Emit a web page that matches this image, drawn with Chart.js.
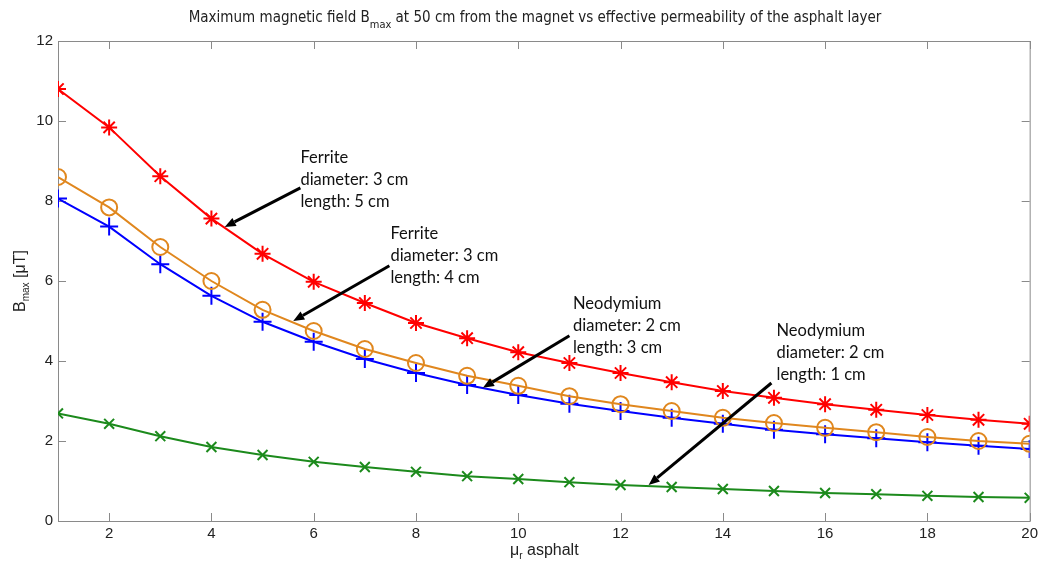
<!DOCTYPE html>
<html>
<head>
<meta charset="utf-8">
<script src="https://cdn.jsdelivr.net/npm/chart.js@4"></script>
<style>
  html, body { margin: 0; padding: 0; background: #fff; }
  #wrap { width: 1042px; height: 565px; }
</style>
</head>
<body>
<div id="wrap"><canvas id="bmaxChart"></canvas></div>
<script>
// mu_r of the asphalt layer
const muR = [1, 2, 3, 4, 5, 6, 7, 8, 9, 10, 11, 12, 13, 14, 15, 16, 17, 18, 19, 20];

// Bmax [uT] per magnet
const ferrite3x5 = [10.8, 9.84, 8.62, 7.56, 6.68, 5.98, 5.45, 4.95, 4.57, 4.22, 3.95, 3.7, 3.47, 3.25, 3.08, 2.92, 2.78, 2.65, 2.53, 2.43];
const ferrite3x4 = [8.6, 7.84, 6.85, 6.0, 5.28, 4.75, 4.3, 3.95, 3.63, 3.38, 3.12, 2.92, 2.75, 2.58, 2.45, 2.33, 2.22, 2.1, 2.0, 1.93];
const neodym2x3 = [8.06, 7.36, 6.42, 5.63, 4.98, 4.48, 4.05, 3.7, 3.4, 3.15, 2.93, 2.75, 2.58, 2.43, 2.28, 2.17, 2.07, 1.97, 1.88, 1.8];
const neodym2x1 = [2.69, 2.43, 2.12, 1.85, 1.65, 1.48, 1.35, 1.23, 1.12, 1.05, 0.97, 0.9, 0.85, 0.8, 0.75, 0.7, 0.67, 0.63, 0.6, 0.58];

// tick labels
const xTicks = [2, 4, 6, 8, 10, 12, 14, 16, 18, 20];
const yTicks = [0, 2, 4, 6, 8, 10, 12];

// callouts: text lines, text anchor, arrow tail -> tip (data units)
const callouts = [
    { lines: ['Ferrite', 'diameter: 3 cm', 'length: 5 cm'], at: [5.74, 8.95], from: [5.74, 8.33], to: [4.26, 7.35] },
    { lines: ['Ferrite', 'diameter: 3 cm', 'length: 4 cm'], at: [7.5, 7.05], from: [7.48, 6.38], to: [5.6, 5.0] },
    { lines: ['Neodymium', 'diameter: 2 cm', 'length: 3 cm'], at: [11.07, 5.3], from: [11.0, 4.63], to: [9.31, 3.33] },
    { lines: ['Neodymium', 'diameter: 2 cm', 'length: 1 cm'], at: [15.05, 4.62], from: [14.95, 3.45], to: [12.55, 0.9] }
];

const sansFam = '"Liberation Sans", Arial, sans-serif';
const narrowFont = '"Liberation Sans Narrow", "DejaVu Sans Condensed", Arial, sans-serif';

function toPoints(values) {
    return values.map((v, i) => ({ x: muR[i], y: v }));
}

// box + inward tick marks, matlab style
const framePlugin = {
    id: 'frame',
    beforeDatasetsDraw(chart) {
        const ctx = chart.ctx;
        const a = chart.chartArea;
        const sx = chart.scales.x, sy = chart.scales.y;
        ctx.save();
        ctx.strokeStyle = '#8a8a8a';
        ctx.lineWidth = 1;
        ctx.strokeRect(a.left + 0.5, a.top + 0.5, a.right - a.left, a.bottom - a.top);
        ctx.beginPath();
        xTicks.forEach(t => {
            const px = Math.round(sx.getPixelForValue(t)) + 0.5;
            ctx.moveTo(px, a.bottom); ctx.lineTo(px, a.bottom - 8);
            ctx.moveTo(px, a.top); ctx.lineTo(px, a.top + 8);
        });
        yTicks.forEach(t => {
            const py = Math.round(sy.getPixelForValue(t)) + 0.5;
            ctx.moveTo(a.left, py); ctx.lineTo(a.left + 8, py);
            ctx.moveTo(a.right, py); ctx.lineTo(a.right - 8, py);
        });
        ctx.stroke();
        ctx.restore();
    }
};

// title and axis labels with subscripts
const labelsPlugin = {
    id: 'labels',
    afterDraw(chart) {
        const ctx = chart.ctx;
        const a = chart.chartArea;
        ctx.save();
        ctx.fillStyle = '#222';
        ctx.textBaseline = 'alphabetic';
        ctx.textAlign = 'left';

        // title
        const t1 = 'Maximum magnetic field B', sub = 'max',
              t2 = ' at 50 cm from the magnet vs effective permeability of the asphalt layer';
        const big = '15px ' + narrowFont, small = '11px ' + narrowFont;
        ctx.font = big; const w1 = ctx.measureText(t1).width, w3 = ctx.measureText(t2).width;
        ctx.font = small; const w2 = ctx.measureText(sub).width;
        const x0 = 535 - (w1 + w2 + w3) / 2;
        ctx.font = big; ctx.fillText(t1, x0, 22);
        ctx.font = small; ctx.fillText(sub, x0 + w1, 28);
        ctx.font = big; ctx.fillText(t2, x0 + w1 + w2, 22);

        // x label
        const lbl = '16px ' + sansFam, lsub = '10px ' + sansFam;
        ctx.font = lbl;
        const mu = '\u03bc', rest = ' asphalt';
        const wm = ctx.measureText(mu).width, wa = ctx.measureText(rest).width;
        ctx.font = lsub;
        const wr = ctx.measureText('r').width;
        const xs = 510;
        ctx.font = lbl; ctx.fillText(mu, xs, 555);
        ctx.font = lsub; ctx.fillText('r', xs + wm, 559);
        ctx.font = lbl; ctx.fillText(rest, xs + wm + wr, 555);

        // y label
        ctx.translate(25, (a.top + a.bottom) / 2);
        ctx.rotate(-Math.PI / 2);
        const yb = 'B', ysub = 'max', yu = ' [\u03bcT]';
        ctx.font = lbl;
        const wb = ctx.measureText(yb).width, wu = ctx.measureText(yu).width;
        ctx.font = lsub;
        const ws = ctx.measureText(ysub).width;
        const ys = -(wb + ws + wu) / 2;
        ctx.font = lbl; ctx.fillText(yb, ys, 0);
        ctx.font = lsub; ctx.fillText(ysub, ys + wb, 4);
        ctx.font = lbl; ctx.fillText(yu, ys + wb + ws, 0);
        ctx.restore();
    }
};

// text callouts with black arrows
const calloutPlugin = {
    id: 'callouts',
    afterDatasetsDraw(chart) {
        const ctx = chart.ctx;
        const sx = chart.scales.x, sy = chart.scales.y;
        ctx.save();
        callouts.forEach(c => {
            const x1 = sx.getPixelForValue(c.from[0]), y1 = sy.getPixelForValue(c.from[1]);
            const x2 = sx.getPixelForValue(c.to[0]), y2 = sy.getPixelForValue(c.to[1]);
            const ang = Math.atan2(y2 - y1, x2 - x1);
            const head = 11, half = 4.5;
            const bx = x2 - head * Math.cos(ang), by = y2 - head * Math.sin(ang);
            ctx.strokeStyle = '#000';
            ctx.fillStyle = '#000';
            ctx.lineWidth = 3;
            ctx.beginPath();
            ctx.moveTo(x1, y1); ctx.lineTo(bx, by);
            ctx.stroke();
            ctx.beginPath();
            ctx.moveTo(x2, y2);
            ctx.lineTo(bx + half * Math.sin(ang), by - half * Math.cos(ang));
            ctx.lineTo(bx - half * Math.sin(ang), by + half * Math.cos(ang));
            ctx.closePath();
            ctx.fill();

            ctx.font = '16.5px Lato, "Open Sans", sans-serif';
            ctx.fillStyle = '#111';
            ctx.textAlign = 'left';
            ctx.textBaseline = 'alphabetic';
            const tx = sx.getPixelForValue(c.at[0]), ty = sy.getPixelForValue(c.at[1]);
            c.lines.forEach((ln, i) => ctx.fillText(ln, tx, ty + i * 22));
        });
        ctx.restore();
    }
};

function series(data, color, style, radius) {
    return {
        data: toPoints(data),
        borderColor: color,
        backgroundColor: color,
        borderWidth: 2,
        pointStyle: style,
        pointRadius: radius,
        pointBorderWidth: 2,
        pointBackgroundColor: style === 'circle' ? 'rgba(0,0,0,0)' : color,
        pointBorderColor: color,
        tension: 0,
        fill: false
    };
}

new Chart(document.getElementById('bmaxChart'), {
    type: 'line',
    data: {
        datasets: [
            series(neodym2x1, '#1c8a1c', 'crossRot', 7),
            series(ferrite3x4, '#e0871e', 'circle', 8),
            series(neodym2x3, '#0000ff', 'cross', 9),
            series(ferrite3x5, '#ff0000', 'star', 8)
        ]
    },
    options: {
        responsive: true,
        maintainAspectRatio: false,
        animation: false,
        layout: { padding: { top: 41, right: 10, left: 0, bottom: 0 } },
        plugins: {
            legend: { display: false },
            tooltip: { enabled: false },
            title: { display: false }
        },
        scales: {
            x: {
                type: 'linear',
                min: 1,
                max: 20,
                afterBuildTicks: s => { s.ticks = xTicks.map(v => ({ value: v })); },
                afterFit: s => { s.height = 44; },
                grid: { display: false, drawTicks: false },
                border: { display: false },
                ticks: { color: '#222', font: { family: sansFam, size: 15 }, padding: 4 }
            },
            y: {
                type: 'linear',
                min: 0,
                max: 12,
                afterBuildTicks: s => { s.ticks = yTicks.map(v => ({ value: v })); },
                afterFit: s => { s.width = 58; },
                grid: { display: false, drawTicks: false },
                border: { display: false },
                ticks: { color: '#222', font: { family: sansFam, size: 15 }, padding: 5 }
            }
        }
    },
    plugins: [framePlugin, calloutPlugin, labelsPlugin]
});
</script>
</body>
</html>
